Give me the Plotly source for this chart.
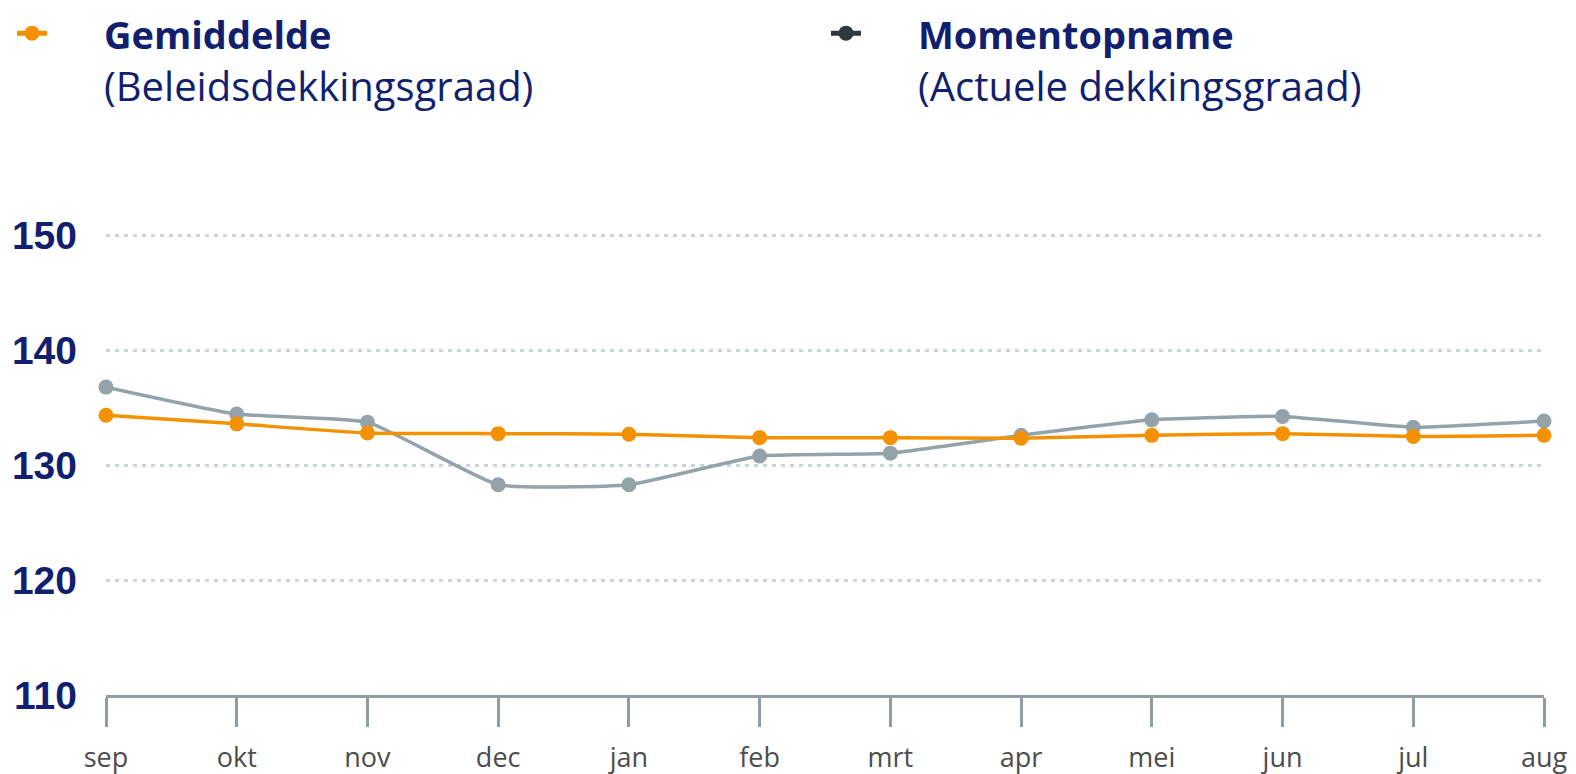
import plotly.graph_objects as go

months = ["sep", "okt", "nov", "dec", "jan", "feb", "mrt", "apr", "mei", "jun", "jul", "aug"]
gemiddelde = [134.35, 133.6, 132.8, 132.75, 132.7, 132.4, 132.4, 132.35, 132.6, 132.75, 132.5, 132.6]
momentopname = [136.8, 134.45, 133.75, 128.3, 128.3, 130.8, 131.05, 132.6, 133.95, 134.25, 133.3, 133.85]
y_ticks = [110, 120, 130, 140, 150]

ORANGE = "#f39200"
GRAY = "#94a3a9"
DARK = "#2e383b"
NAVY = "#111f6e"
AXIS = "#8f9ea4"
GRID = "#cdd4d8"

W, H = 1568, 766  # page body has an 8px default margin
T, B = 169.5, 79
PLOT_H = H - T - B

PAD = "\u00a0" * 5

def legend_label(title, sub):
    return (PAD + "<span style='font-size:38px'><b>" + title + "</b></span><br>"
            + PAD + sub)

fig = go.Figure()

fig.add_trace(go.Scatter(
    x=months, y=momentopname, mode="lines+markers",
    line=dict(color=GRAY, width=3.5, shape="spline", smoothing=0.4),
    marker=dict(color=GRAY, size=15),
    showlegend=False, cliponaxis=False, hoverinfo="skip",
))
fig.add_trace(go.Scatter(
    x=months, y=gemiddelde, mode="lines+markers",
    line=dict(color=ORANGE, width=3.5, shape="spline", smoothing=0.5),
    marker=dict(color=ORANGE, size=15),
    showlegend=False, cliponaxis=False, hoverinfo="skip",
))
# legend entries (symbols drawn a little heavier, as in the original key)
fig.add_trace(go.Scatter(
    x=[None], y=[None], mode="lines+markers",
    line=dict(color=ORANGE, width=5),
    marker=dict(color=ORANGE, size=15),
    name=legend_label("Gemiddelde", "(Beleidsdekkingsgraad)"),
    showlegend=True, legend="legend", hoverinfo="skip",
))
fig.add_trace(go.Scatter(
    x=[None], y=[None], mode="lines+markers",
    line=dict(color=DARK, width=5),
    marker=dict(color=DARK, size=15),
    name=legend_label("Momentopname", "(Actuele dekkingsgraad)"),
    showlegend=True, legend="legend2", hoverinfo="skip",
))

legend_common = dict(
    xref="container", yref="paper",
    y=1 + (T + 8) / PLOT_H, xanchor="left", yanchor="top",
    valign="top",
    font=dict(family="Open Sans", size=40, color=NAVY),
    bgcolor="rgba(0,0,0,0)",
)

fig.update_layout(
    width=W, height=H,
    margin=dict(l=98, r=32, t=T, b=B, autoexpand=False),
    paper_bgcolor="white", plot_bgcolor="white",
    hovermode=False,
    legend=dict(x=4 / W, **legend_common),
    legend2=dict(x=818 / W, **legend_common),
    xaxis=dict(
        type="category", range=[0, 11],
        showgrid=False, zeroline=False,
        showline=True, linecolor=AXIS, linewidth=3,
        ticks="outside", ticklen=29, tickwidth=3, tickcolor=AXIS,
        tickfont=dict(family="Open Sans", size=27, color="#4d4d4d"),
        ticklabelstandoff=8,
    ),
    yaxis=dict(
        range=[110, 155], tickvals=y_ticks,
        showgrid=True, gridcolor=GRID, gridwidth=3, griddash="4px,5px",
        zeroline=False, showline=False,
        tickfont=dict(family="Liberation Sans", size=39, color=NAVY, weight="bold"),
        ticklabelstandoff=28,
    ),
)

fig.write_html("out.html")
